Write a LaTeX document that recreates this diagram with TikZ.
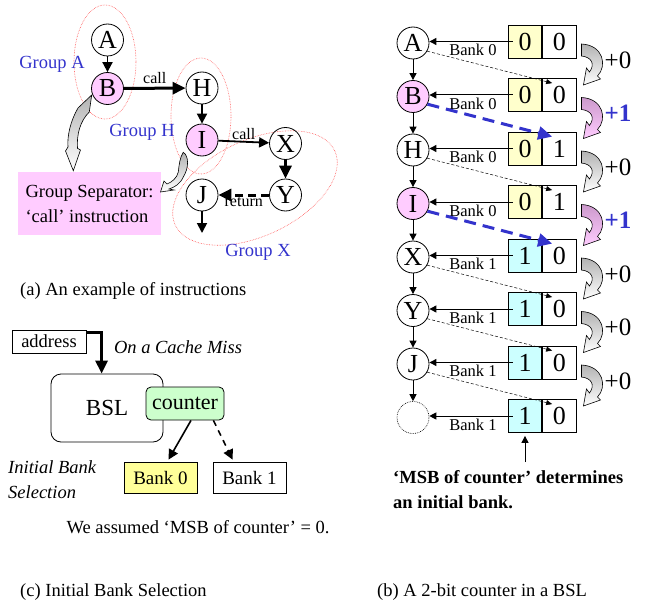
\documentclass[tikz,border=0pt]{standalone}
\usepackage{fontspec}
\setmainfont{Liberation Serif}
\usetikzlibrary{positioning,arrows.meta,calc,shapes.geometric}
\definecolor{azul}{HTML}{3333CC}
\definecolor{rosa}{HTML}{FFCCFF}
\definecolor{crema}{HTML}{FFFFCC}
\definecolor{celeste}{HTML}{CCFFFF}
\definecolor{amarillo}{HTML}{FFFF99}
\definecolor{verde}{HTML}{CCFFCC}
\definecolor{lila}{HTML}{CC99CC}
\definecolor{rojo}{HTML}{FF5555}

% curved block arrow between two counter states
\tikzset{pics/curva/.style 2 args={code={
  \path[draw, line width=0.6pt, top color=#1, middle color=#2, bottom color=#2]
    (0,0) .. controls (22,1) and (26,22) .. (16,32) -- (19,35) -- (2,41) -- (5,24) -- (8,28)
    .. controls (14,20) and (10,13) .. (0,12) -- cycle;
}}}

\begin{document}
\begin{tikzpicture}[x=1pt, y=-1pt, inner sep=1pt,
      font=\fontsize{18.5}{24}\selectfont,
      n/.style={circle, draw, line width=0.8pt, minimum size=32pt, inner sep=0pt,
                font=\fontsize{26}{28}\selectfont},
      f/.style={-{Triangle[length=10pt,width=10pt]}, line width=1.8pt},
      fg/.style={-{Triangle[length=13pt,width=12pt]}, line width=3pt},
      fr/.style={-{Triangle[length=7pt,width=7pt]}, line width=1pt},
      dd/.style={-{Triangle[length=6pt,width=5pt]}, line width=0.5pt, dash pattern=on 3pt off 2pt},
      bd/.style={-{Triangle[length=14pt,width=13pt]}, line width=3pt, draw=azul,
                 dash pattern=on 12pt off 7pt},
      g/.style={ellipse, draw=rojo, densely dotted, line width=0.6pt, inner sep=0pt},
      gl/.style={text=azul},
      cel/.style={draw, line width=0.8pt, minimum width=33.5pt, minimum height=33pt,
                  inner sep=0pt, font=\fontsize{26}{28}\selectfont},
      bk/.style={font=\fontsize{16.5}{18}\selectfont},
      cj/.style={draw, line width=0.8pt, inner sep=0pt}]

    \useasboundingbox (0,0) rectangle (650,607);

    % --- (a) grupos de instrucciones ----------------------------------
    \node[g, minimum width=62pt, minimum height=114pt] (elA) at (105,62) {};
    \node[g, minimum width=60pt, minimum height=116pt] (elH) at (201,116) {};
    \node[g, minimum width=176pt, minimum height=96pt, rotate=25] (elX) at (255,188) {};

    \node[n] (A) at (107.5,40) {A};
    \node[n, fill=rosa] (B) at (107.5,88.5) {B};
    \node[n] (H) at (202,88) {H};
    \node[n, fill=rosa] (I) at (202,140) {I};
    \node[n] (X) at (285.5,143.5) {X};
    \node[n] (Y) at (285.5,195) {Y};
    \node[n] (J) at (202,195) {J};
    \coordinate (Jfin) at (202,233);

    \draw[f] (A) -- (B);
    \draw[fg] (B) -- node[above=2pt, font=\fontsize{16}{18}\selectfont] {call} (H);
    \draw[f] (H) -- (I);
    \draw[f] (I) -- node[above=0pt, font=\fontsize{16}{18}\selectfont] {call} (X);
    \draw[fg] (X) -- (Y);
    \draw[fg, dashed, dash pattern=on 8pt off 5pt] (Y) -- node[below=0pt, font=\fontsize{16}{18}\selectfont] {return} (J);
    \draw[f] (J) -- (Jfin);

    \node[gl] (gA) at (52,64) {Group A};
    \node[gl] (gH) at (142,132) {Group H};
    \node[gl] (gX) at (258,252) {Group X};

    \node[fill=rosa, minimum width=143pt, minimum height=63pt, inner sep=4pt,
          align=left, font=\fontsize{18.5}{25}\selectfont]
          (sep) at (89.5,203.5) {Group Separator:\\`call' instruction};

    % flechas curvas hacia el separador
    \path[draw, line width=0.6pt, top color=gray!60, middle color=white, bottom color=white]
      (91.7,95) -- (78,108) .. controls (71,120) and (67,135) .. (68,147)
      -- (65.5,151) -- (73.3,170.7) -- (80.5,150) -- (77.5,148.3)
      .. controls (76.5,135) and (80,121) .. (89.3,112) -- cycle;
    \path[draw, line width=0.6pt, top color=gray!60, middle color=white, bottom color=white]
      (183.3,152.3) .. controls (189,156) and (189,168) .. (183.3,177)
      .. controls (180,184) and (175,187) .. (169,189) -- (174,190) -- (160.5,192)
      -- (164,181) -- (167,184) .. controls (172,182) and (177,178) .. (178.3,172)
      .. controls (179,165) and (180,157) .. (183.3,152.3) -- cycle;

    \node[anchor=west, inner sep=0pt] (capA) at (20,291) {(a) An example of instructions};

    % --- (c) seleccion inicial de banco -------------------------------
    \node[cj, minimum width=74pt, minimum height=23pt] (dir) at (49,341.5) {address};
    \node[cj, rounded corners=10pt, minimum width=112pt, minimum height=68pt,
          font=\fontsize{23}{25}\selectfont] (bsl) at (107,408) {BSL};
    \node[cj, fill=verde, rounded corners=5pt, minimum width=78pt, minimum height=33pt,
          font=\fontsize{22}{24}\selectfont] (cnt) at (185,403.5) {counter};
    \node[cj, fill=amarillo, minimum width=73pt, minimum height=31pt,
          font=\fontsize{19}{21}\selectfont] (bank0) at (160.5,477.5) {Bank 0};
    \node[cj, minimum width=73pt, minimum height=31pt,
          font=\fontsize{19}{21}\selectfont] (bank1) at (249.5,477.5) {Bank 1};
    \coordinate (bslin) at ($(bsl.north west)+(51,0)$);

    \draw[fg, line width=3pt] ([yshift=-3pt]dir.north east) -| (bslin);
    \draw[f, line width=1.6pt] ([xshift=6pt]cnt.south) -- ([xshift=8pt,yshift=2pt]bank0.north);
    \draw[f, line width=1.6pt, dash pattern=on 6pt off 5pt]
      ([xshift=-11pt]cnt.south east) -- ([xshift=20pt,yshift=2pt]bank1.north west);

    \node[font=\itshape\fontsize{18.5}{24}\selectfont] (miss) at (178,347) {On a Cache Miss};
    \node[font=\itshape\fontsize{18.5}{25}\selectfont, align=left, anchor=west, inner sep=0pt]
      (ibs) at (8,480) {Initial Bank\\Selection};
    \node (supuesto) at (198,527) {We assumed `MSB of counter' = 0.};

    \node[anchor=west, inner sep=0pt] (capC) at (20,592) {(c) Initial Bank Selection};

    % --- (b) contador de 2 bits ---------------------------------------
    \foreach \k/\l/\c in {0/A/white,1/B/rosa,2/H/white,3/I/rosa,4/X/white,5/Y/white,6/J/white}
      \node[n, fill=\c] (r\k) at (413,{43+53.5*\k}) {\l};
    \node[n, densely dotted, line width=0.6pt] (r7) at (413,{43+53.5*7}) {};

    \foreach \k/\hi/\lo/\bc in {0/0/0/crema,1/0/0/crema,2/0/1/crema,3/0/1/crema,
                                4/1/0/celeste,5/1/0/celeste,6/1/0/celeste,7/1/0/celeste}{
      \node[cel, fill=\bc] (m\k) at (525,{43+53.5*\k-1.5}) {\hi};
      \node[cel, right=0pt of m\k] (s\k) {\lo};
      \node[bk] (b\k) at (473,{43+53.5*\k+7}) {Bank \hi};
      \draw[fr] ([xshift=5pt]m\k.west) -- (r\k.east |- m\k.west);
    }

    \foreach \k [evaluate=\k as \j using int(\k+1)] in {0,...,6}
      \draw[fr] (r\k) -- (r\j);

    \foreach \k/\j in {0/1,2/3,4/5,5/6,6/7}
      \draw[dd] (r\k.-30) -- ($(s\j.north west)+(10,5)$);
    \foreach \k/\j in {1/2,3/4}
      \draw[bd] (r\k.-28) -- ($(s\j.north west)+(10,5)$);

    \foreach \k in {0,2,4,5,6}{
      \pic at ($(s\k.east)+(5,2.5)$) {curva={gray!60}{white}};
      \node[font=\fontsize{25}{27}\selectfont] (inc\k) at (618,{43+53.5*\k+17}) {+0};
    }
    \foreach \k in {1,3}{
      \pic at ($(s\k.east)+(5,2.5)$) {curva={lila}{rosa}};
      \node[font=\fontsize{25}{27}\selectfont\bfseries, text=azul] (inc\k) at (618,{43+53.5*\k+17}) {+1};
    }

    \node[font=\bfseries\fontsize{18.5}{25}\selectfont, align=left, anchor=north west, inner sep=0pt]
      (nota) at (393,470) {`MSB of counter' determines\\an initial bank.};
    \coordinate (flecha) at ($(nota.north -| m7.south)+(0,-8)$);
    \draw[fr, shorten >=3pt] (flecha) -- (m7.south);

    \node[anchor=west, inner sep=0pt] (capB) at (377,592) {(b) A 2-bit counter in a BSL};
  \end{tikzpicture}
\end{document}
